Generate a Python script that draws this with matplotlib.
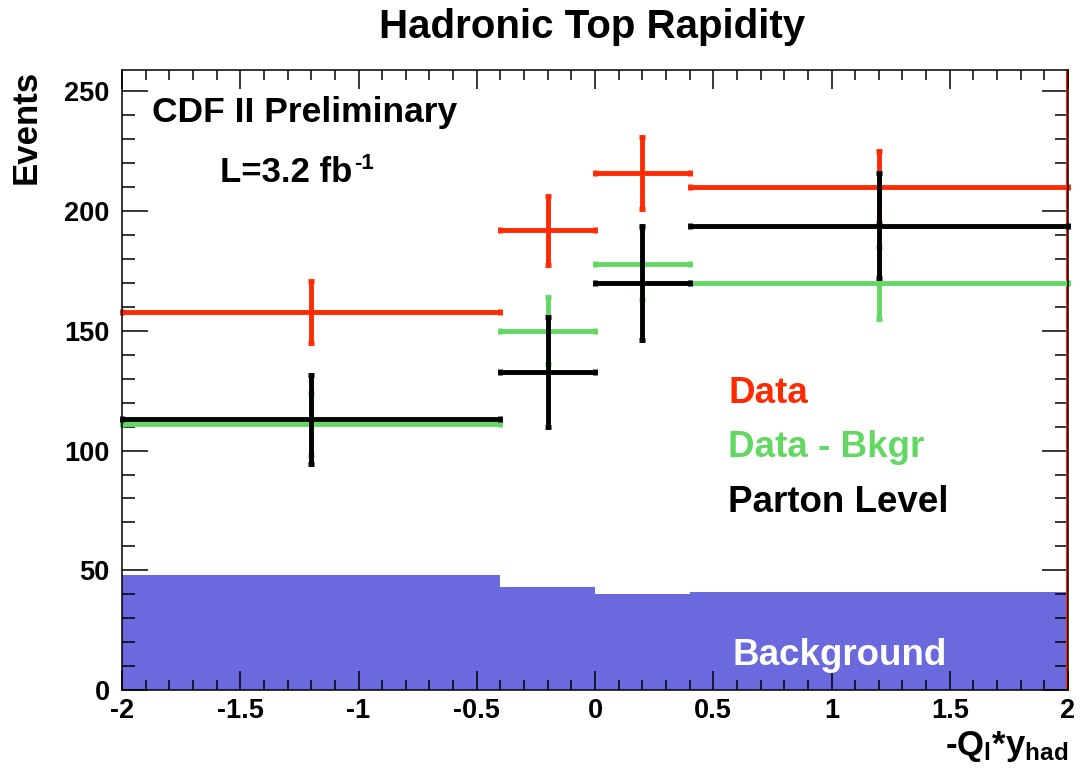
import numpy as np
import matplotlib.pyplot as plt
from matplotlib.ticker import MultipleLocator

plt.rcParams['font.family'] = ['Liberation Sans', 'DejaVu Sans']
plt.rcParams['font.weight'] = 'bold'
plt.rcParams['mathtext.fontset'] = 'custom'
plt.rcParams['mathtext.rm'] = 'Liberation Sans:bold'
plt.rcParams['mathtext.bf'] = 'Liberation Sans:bold'
plt.rcParams['mathtext.it'] = 'Liberation Sans:bold'

# bin edges of -Q_l * y_had
edges = np.array([-2.0, -0.4, 0.0, 0.4, 2.0])

# event counts per bin
data = [158, 192, 216, 210]
data_err = [13, 14.5, 15, 15]
data_bkgr = [111, 150, 178, 170]
data_bkgr_err = [13, 14, 15, 15]
parton = [113, 133, 170, 194]
parton_err = [18.5, 23, 24, 22]
background = [48, 43, 40, 41]

red = '#ff2a00'
green = '#62d862'
blue = '#6a6ade'

centers = (edges[:-1] + edges[1:]) / 2
half_w = (edges[1:] - edges[:-1]) / 2

fig = plt.figure(figsize=(10.82, 7.78), dpi=100)
ax = fig.add_axes([0.1128, 0.1131, 0.8743, 0.797])

ax.stairs(background, edges, fill=True, color=blue, zorder=1)

ax.axvline(edges[-1], color=red, lw=3, zorder=2)

for vals, errs, col in [(data, data_err, red),
                        (data_bkgr, data_bkgr_err, green),
                        (parton, parton_err, 'black')]:
    ax.errorbar(centers, vals, xerr=half_w, yerr=errs, fmt='none',
                ecolor=col, elinewidth=3.5, capsize=2.5, capthick=3.5,
                zorder=3, clip_on=False)

ax.set_xlim(-2, 2)
ax.set_ylim(0, 259)

ax.xaxis.set_minor_locator(MultipleLocator(0.1))
ax.yaxis.set_major_locator(MultipleLocator(50))
ax.yaxis.set_minor_locator(MultipleLocator(10))
ax.set_xticks([-2, -1.5, -1, -0.5, 0, 0.5, 1, 1.5, 2])
ax.set_xticklabels(['-2', '-1.5', '-1', '-0.5', '0', '0.5', '1', '1.5', '2'])

ax.tick_params(axis='both', which='both', direction='in', top=True, right=True,
               width=1.1, labelsize=19.5)
ax.tick_params(axis='x', which='major', length=14, pad=6)
ax.tick_params(axis='x', which='minor', length=7)
ax.tick_params(axis='y', which='major', length=19, pad=9)
ax.tick_params(axis='y', which='minor', length=9.5)
for s in ax.spines.values():
    s.set_linewidth(1.1)
    s.set_zorder(4)

fig.text(0.547, 0.951, 'Hadronic Top Rapidity', ha='center', va='baseline',
         fontsize=29, fontweight='bold')
fig.text(0.0397, 0.910, 'Events', rotation=90, ha='right', va='top',
         fontsize=25, fontweight='bold')
fig.text(0.987, 0.0296, r'-Q$_{\rm l}$*y$_{\rm had}$', ha='right', va='baseline',
         fontsize=25, fontweight='bold')

ax.text(0.0317, 0.9166, 'CDF II Preliminary', transform=ax.transAxes,
        ha='left', va='baseline', fontsize=25.5, fontweight='bold')
lumi = ax.text(0.1036, 0.820, 'L=3.2 fb', transform=ax.transAxes,
               ha='left', va='baseline', fontsize=25, fontweight='bold')
ax.annotate('-1', xy=(1, 1), xycoords=lumi, xytext=(1, 2),
            textcoords='offset points', ha='left', va='top',
            fontsize=16, fontweight='bold')
ax.text(0.6406, 0.463, 'Data', transform=ax.transAxes, color=red,
        ha='left', va='baseline', fontsize=26.5, fontweight='bold')
ax.text(0.6406, 0.376, 'Data - Bkgr', transform=ax.transAxes, color=green,
        ha='left', va='baseline', fontsize=26.5, fontweight='bold')
ax.text(0.6406, 0.2876, 'Parton Level', transform=ax.transAxes, color='black',
        ha='left', va='baseline', fontsize=26.5, fontweight='bold')
ax.text(0.645, 0.0403, 'Background', transform=ax.transAxes, color='white',
        ha='left', va='baseline', fontsize=26.5, fontweight='bold')

fig.savefig('out.png', dpi=100)
